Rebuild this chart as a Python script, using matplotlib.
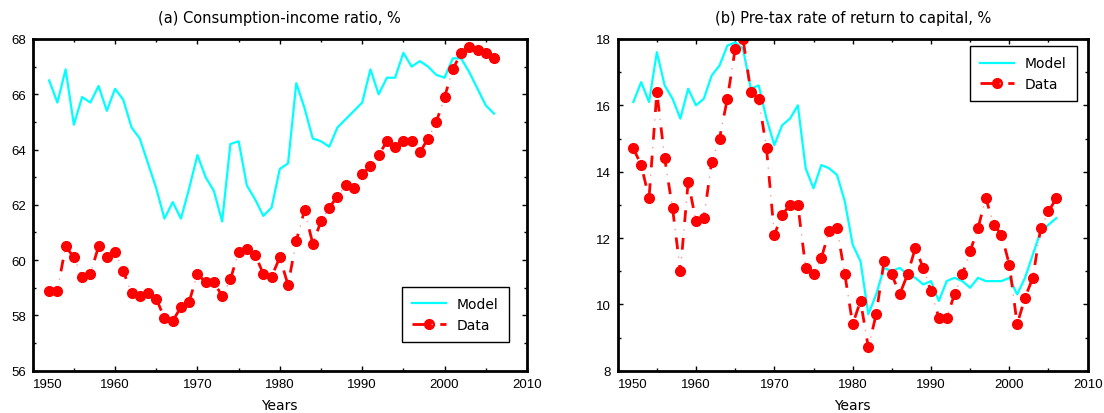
import matplotlib
matplotlib.use('Agg')
import matplotlib.pyplot as plt
from matplotlib.lines import Line2D
from matplotlib.legend_handler import HandlerLine2D, HandlerTuple
from matplotlib.ticker import MultipleLocator
import numpy as np

plt.rcParams['lines.scale_dashes'] = False

years = np.arange(1952, 2007)
year_ticks = [1950, 1960, 1970, 1980, 1990, 2000, 2010]

# (a) consumption-income ratio, %
ci_model = [66.5, 65.7, 66.9, 64.9, 65.9, 65.7, 66.3, 65.4, 66.2, 65.8,
            64.8, 64.4, 63.5, 62.6, 61.5, 62.1, 61.5, 62.6, 63.8, 63.0,
            62.5, 61.4, 64.2, 64.3, 62.7, 62.2, 61.6, 61.9, 63.3, 63.5,
            66.4, 65.5, 64.4, 64.3, 64.1, 64.8, 65.1, 65.4, 65.7, 66.9,
            66.0, 66.6, 66.6, 67.5, 67.0, 67.2, 67.0, 66.7, 66.6, 67.3,
            67.3, 66.8, 66.2, 65.6, 65.3]
ci_data = [58.9, 58.9, 60.5, 60.1, 59.4, 59.5, 60.5, 60.1, 60.3, 59.6,
           58.8, 58.7, 58.8, 58.6, 57.9, 57.8, 58.3, 58.5, 59.5, 59.2,
           59.2, 58.7, 59.3, 60.3, 60.4, 60.2, 59.5, 59.4, 60.1, 59.1,
           60.7, 61.8, 60.6, 61.4, 61.9, 62.3, 62.7, 62.6, 63.1, 63.4,
           63.8, 64.3, 64.1, 64.3, 64.3, 63.9, 64.4, 65.0, 65.9, 66.9,
           67.5, 67.7, 67.6, 67.5, 67.3]

# (b) pre-tax rate of return to capital, %
ret_model = [16.1, 16.7, 16.1, 17.6, 16.6, 16.2, 15.6, 16.5, 16.0, 16.2,
             16.9, 17.2, 17.8, 17.9, 17.7, 16.5, 16.6, 15.6, 14.8, 15.4,
             15.6, 16.0, 14.1, 13.5, 14.2, 14.1, 13.9, 13.1, 11.8, 11.3,
             9.7, 10.3, 11.1, 11.0, 11.1, 10.9, 10.8, 10.6, 10.7, 10.1,
             10.7, 10.8, 10.7, 10.5, 10.8, 10.7, 10.7, 10.7, 10.8, 10.3,
             10.8, 11.5, 12.2, 12.4, 12.6]
ret_data = [14.7, 14.2, 13.2, 16.4, 14.4, 12.9, 11.0, 13.7, 12.5, 12.6,
            14.3, 15.0, 16.2, 17.7, 18.0, 16.4, 16.2, 14.7, 12.1, 12.7,
            13.0, 13.0, 11.1, 10.9, 11.4, 12.2, 12.3, 10.9, 9.4, 10.1,
            8.7, 9.7, 11.3, 10.9, 10.3, 10.9, 11.7, 11.1, 10.4, 9.6,
            9.6, 10.3, 10.9, 11.6, 12.3, 13.2, 12.4, 12.1, 11.2, 9.4,
            10.2, 10.8, 12.3, 12.8, 13.2]

CYAN = '#00ffff'
RED = '#ff0000'
PINK = '#ff9a9a'
TXT = dict(family='DejaVu Sans')


class MarkerAtStart(HandlerLine2D):
    # marker sits at the left end of the legend sample, like the original
    def get_xdata(self, legend, xdescent, ydescent, width, height, fontsize):
        xdata, _ = super().get_xdata(legend, xdescent, ydescent, width, height, fontsize)
        return xdata, np.array([-xdescent + 0.14 * width])


def panel(ax, model, data, ylim, title, legend_loc, anchor):
    ax.plot(years, model, color=CYAN, lw=1.6)
    ax.plot(years, data, color=RED, lw=2.0, ls=(0, (8.5, 11.5)))
    ax.plot(years, data, color=PINK, lw=1.0, ls=(6.25, (1, 19)))
    ax.plot(years, data, ls='none', marker='o', ms=7, color=RED, mec=RED)

    ax.set_xlim(1950, 2010)
    ax.set_ylim(*ylim)
    ax.set_xticks(year_ticks)
    ax.xaxis.set_minor_locator(MultipleLocator(5))
    ax.set_yticks(np.arange(ylim[0], ylim[1] + 1, 2))
    ax.yaxis.set_minor_locator(MultipleLocator(1))
    ax.tick_params(which='both', direction='in', top=True, right=True,
                   width=1, labelsize=9.5)
    ax.tick_params(which='major', length=3.5)
    ax.tick_params(which='minor', length=2.5)
    ax.tick_params(axis='x', pad=5)
    ax.tick_params(axis='y', pad=5)
    for lab in ax.get_xticklabels() + ax.get_yticklabels():
        lab.set_family('Liberation Sans')
    ax.get_xticklabels()[0].set_ha('left')
    for sp in ax.spines.values():
        sp.set_linewidth(2)

    ax.set_title(title, fontsize=10.5, pad=12.5, **TXT)
    ax.set_xlabel('Years', fontsize=10, labelpad=6, **TXT)

    model_h = Line2D([], [], color=CYAN, lw=1.6)
    data_h = Line2D([], [], color=RED, lw=2.0, ls=(0, (8.5, 11.5)),
                    marker='o', ms=7, mec=RED)
    dot_h = Line2D([], [], color=PINK, lw=1.0, ls=(6.25, (1, 19)))
    leg = ax.legend([model_h, (data_h, dot_h)], ['Model', 'Data'],
                    handler_map={tuple: HandlerTuple(ndivide=1),
                                 data_h: MarkerAtStart(numpoints=1)},
                    loc=legend_loc, bbox_to_anchor=anchor, borderaxespad=0,
                    fancybox=False, framealpha=1, edgecolor='black',
                    prop={'family': 'DejaVu Sans', 'size': 10},
                    handlelength=2.45, handletextpad=0.75, borderpad=0.75,
                    labelspacing=0.45)
    leg.get_frame().set_linewidth(1.0)


fig = plt.figure(figsize=(11.04, 4.14), dpi=100)
ax1 = fig.add_axes([0.0296, 0.1022, 0.4477, 0.8012])
ax2 = fig.add_axes([0.5595, 0.1022, 0.4257, 0.8012])

panel(ax1, ci_model, ci_data, (56, 68), '(a) Consumption-income ratio, %',
      'lower right', (0.9636, 0.0865))
panel(ax2, ret_model, ret_data, (8, 18), '(b) Pre-tax rate of return to capital, %',
      'upper right', (0.977, 0.979))

fig.savefig('out.png', dpi=100)
